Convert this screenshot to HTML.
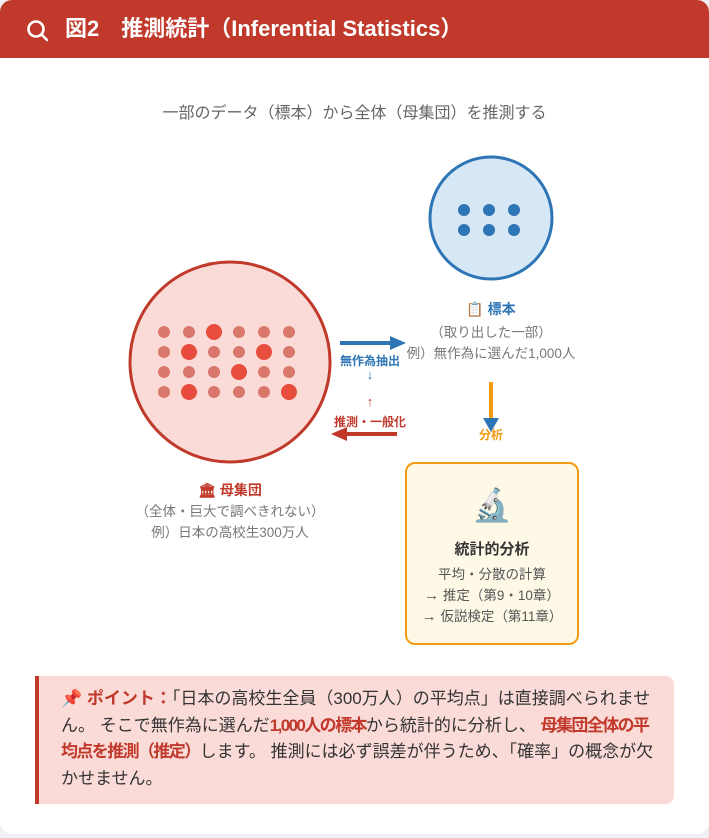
<!DOCTYPE html>
<html><head><meta charset="utf-8"><style>
body{margin:0;width:709px;height:838px;background:#eef0f3;font-family:"Liberation Sans","Noto Sans CJK JP",sans-serif;overflow:hidden}
.card{position:absolute;left:0;top:0;width:709px;height:834px;background:#fff;border-radius:12px;overflow:hidden}
.hdr{position:absolute;left:0;top:0;width:709px;height:58px;background:#c0392b;color:#fff;font-weight:bold;font-size:22px;line-height:58px}
.t{position:absolute;white-space:nowrap;text-align:center}
.cb b{color:#c0392b;letter-spacing:-1.6px}
</style></head><body>
<div class="card">
<div class="hdr"><svg style="position:absolute;left:26px;top:19px" width="24" height="24" viewBox="0 0 24 24"><circle cx="10" cy="10" r="7.5" fill="none" stroke="#fff" stroke-width="2.6"/><line x1="15.5" y1="15.5" x2="21" y2="21" stroke="#fff" stroke-width="2.6" stroke-linecap="round"/></svg><span style="position:absolute;left:65px">図2　推測統計（Inferential Statistics）</span></div>
<div class="t" style="left:0;width:709px;top:99px;font-size:16px;color:#666">一部のデータ（標本）から全体（母集団）を推測する</div>
<svg style="position:absolute;left:0;top:0" width="709" height="700">
<circle cx="230" cy="362" r="100" fill="#fadbd8" stroke="#c0392b" stroke-width="3"/>
<g fill="#d9776d">
<circle cx="164" cy="332" r="6"/><circle cx="189" cy="332" r="6"/><circle cx="239" cy="332" r="6"/><circle cx="264" cy="332" r="6"/><circle cx="289" cy="332" r="6"/>
<circle cx="164" cy="352" r="6"/><circle cx="214" cy="352" r="6"/><circle cx="239" cy="352" r="6"/><circle cx="289" cy="352" r="6"/>
<circle cx="164" cy="372" r="6"/><circle cx="189" cy="372" r="6"/><circle cx="214" cy="372" r="6"/><circle cx="264" cy="372" r="6"/><circle cx="289" cy="372" r="6"/>
<circle cx="164" cy="392" r="6"/><circle cx="214" cy="392" r="6"/><circle cx="239" cy="392" r="6"/><circle cx="264" cy="392" r="6"/>
</g>
<g fill="#e74c3c">
<circle cx="214" cy="332" r="8"/><circle cx="189" cy="352" r="8"/><circle cx="264" cy="352" r="8"/><circle cx="239" cy="372" r="8"/><circle cx="189" cy="392" r="8"/><circle cx="289" cy="392" r="8"/>
</g>
<circle cx="491" cy="218" r="61" fill="#d6e8f6" stroke="#2e75b6" stroke-width="3"/>
<g fill="#2e75b6"><circle cx="464" cy="210" r="6"/><circle cx="489" cy="210" r="6"/><circle cx="514" cy="210" r="6"/><circle cx="464" cy="230" r="6"/><circle cx="489" cy="230" r="6"/><circle cx="514" cy="230" r="6"/></g>
<line x1="340" y1="343" x2="392" y2="343" stroke="#2e75b6" stroke-width="4"/><polygon points="390,336 406,343 390,350" fill="#2e75b6"/>
<line x1="345" y1="434" x2="397" y2="434" stroke="#c0392b" stroke-width="4"/><polygon points="347,427 331,434 347,441" fill="#c0392b"/>
<line x1="491" y1="382" x2="491" y2="420" stroke="#f39c12" stroke-width="4"/><polygon points="483,418 499,418 491,432" fill="#2e75b6"/>
</svg>
<div class="t" style="left:330px;width:80px;top:352px;font-size:12px;font-weight:bold;color:#2e75b6">無作為抽出</div>
<div class="t" style="left:330px;width:80px;top:367px;font-size:13px;color:#2e75b6">↓</div>
<div class="t" style="left:330px;width:80px;top:394px;font-size:13px;color:#c0392b">↑</div>
<div class="t" style="left:325px;width:90px;top:413px;font-size:12px;font-weight:bold;color:#c0392b">推測・一般化</div>
<div class="t" style="left:471px;width:40px;top:426px;font-size:12px;font-weight:bold;color:#f39c12">分析</div>
<div class="t" style="left:391px;width:200px;top:299px;font-size:14px;font-weight:bold;color:#2e75b6">📋 標本</div>
<div class="t" style="left:391px;width:200px;top:321px;font-size:13.5px;color:#777">（取り出した一部）</div>
<div class="t" style="left:391px;width:200px;top:342px;font-size:13.5px;color:#777">例）無作為に選んだ1,000人</div>
<div class="t" style="left:130px;width:200px;top:480px;font-size:14px;font-weight:bold;color:#c0392b">🏛 母集団</div>
<div class="t" style="left:120px;width:220px;top:500px;font-size:13.5px;color:#777">（全体・巨大で調べきれない）</div>
<div class="t" style="left:130px;width:200px;top:521px;font-size:13.5px;color:#777">例）日本の高校生300万人</div>
<div style="position:absolute;left:405px;top:462px;width:170px;height:179px;background:#fef9e7;border:2px solid #f39c12;border-radius:10px"></div>
<div class="t" style="left:405px;width:174px;top:486px;font-size:32px">🔬</div>
<div class="t" style="left:405px;width:174px;top:538px;font-size:15px;font-weight:bold;color:#333">統計的分析</div>
<div class="t" style="left:405px;width:174px;top:564px;font-size:13.5px;color:#555;line-height:21px">平均・分散の計算<br><span style="font-size:15px">→</span> 推定（第9・10章）<br><span style="font-size:15px">→</span> 仮説検定（第11章）</div>
<div class="cb" style="position:absolute;left:35px;top:676px;padding:10px 18px 10px 22px;width:595px;height:108px;background:#fadbd8;border-left:4px solid #c0392b;border-radius:0 8px 8px 0;font-size:17px;line-height:26.5px;color:#333">
<span style="color:#c0392b;font-weight:bold">📌 ポイント：</span>「日本の高校生全員（300万人）の平均点」は直接調べられません。 そこで無作為に選んだ<b>1,000人の標本</b>から統計的に分析し、 <b>母集団全体の平均点を推測（推定）</b>します。 推測には必ず誤差が伴うため、「確率」の概念が欠かせません。</div>
</div>
</body></html>
